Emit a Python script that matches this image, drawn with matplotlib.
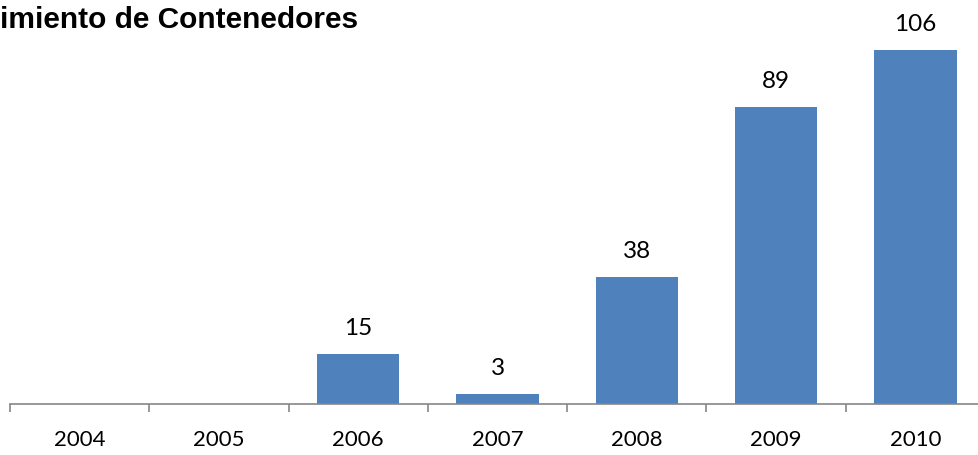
import matplotlib
matplotlib.use("Agg")
import matplotlib.pyplot as plt
import numpy as np

years = ["2004", "2005", "2006", "2007", "2008", "2009", "2010"]
values = [0, 0, 15, 3, 38, 89, 106]
title = "imiento de Contenedores"

W, H = 979, 455
fig = plt.figure(figsize=(W / 100, H / 100), dpi=100)
base_y = 404
ax = fig.add_axes([10 / W, (H - base_y) / H, 1 - 10 / W, base_y / H])
step = 139.3
ax.set_xlim(-0.5, -0.5 + (W - 10) / step)
ax.set_ylim(0, base_y / 3.34)

x = np.arange(len(years))
ax.bar(x, values, width=0.59, color="#4F81BD", zorder=2)
for xi, v in zip(x, values):
    if v > 0:
        ax.annotate(str(v), (xi, v), xytext=(0, 13.7), textcoords="offset points",
                    ha="center", va="baseline", fontsize=17.5, family=["Lato", "DejaVu Sans"])

for s in ["top", "right", "left"]:
    ax.spines[s].set_visible(False)
ax.spines["bottom"].set_color("#868686")
ax.spines["bottom"].set_linewidth(1.2)
ax.set_yticks([])
ax.set_xticks(x)
ax.set_xticklabels(years, fontsize=16, family=["Lato", "DejaVu Sans"])
ax.tick_params(axis="x", which="major", length=0, pad=19)
ax.set_xticks(np.arange(-0.5, 6.5, 1.0), minor=True)
ax.tick_params(axis="x", which="minor", length=6, color="#868686", width=1.2)

fig.text(0, 1 - 28 / H, title, fontsize=21.5, fontweight="bold",
         family=["Liberation Sans", "DejaVu Sans"], ha="left", va="baseline")

fig.savefig("out.png", dpi=100)
